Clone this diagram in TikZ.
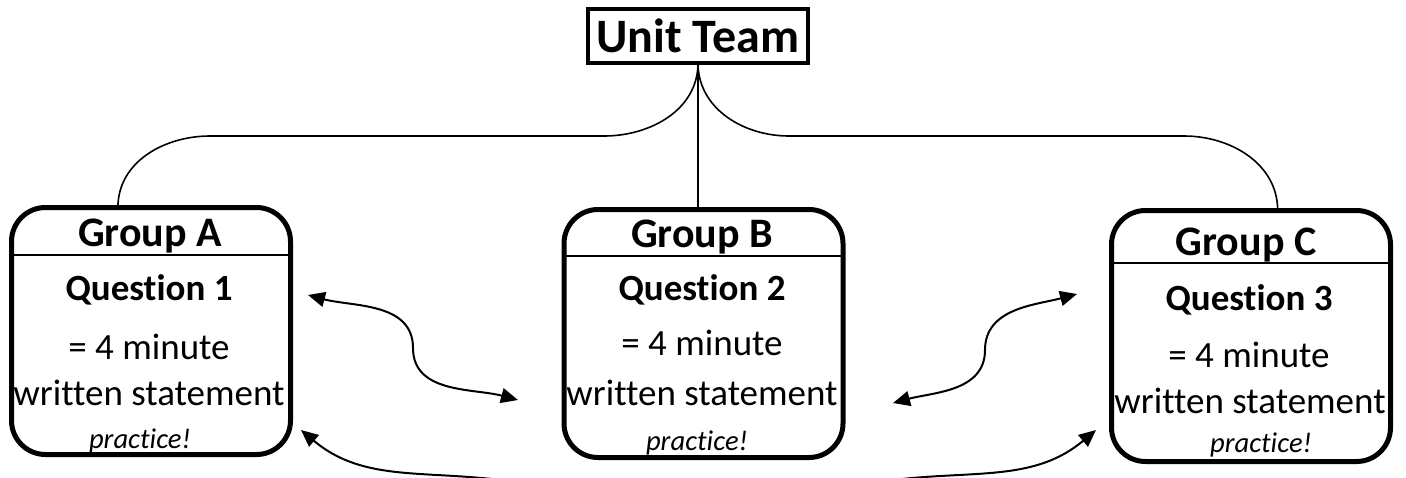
\documentclass[tikz,border=0pt]{standalone}
\usepackage{fontspec}
\setmainfont{Carlito}[RawFeature={-liga;-clig;-calt;-dlig}]
\usetikzlibrary{arrows.meta}

\tikzset{
  grpbox/.style={draw, line width=2.5pt, rounded corners=17pt, inner sep=0pt, outer sep=0pt, minimum width=139.5pt},
  divline/.style={line width=0.75pt},
  hdr/.style={anchor=base, inner sep=0pt, font=\fontsize{21}{25}\selectfont\bfseries},
  qtext/.style={anchor=base, inner sep=0pt, font=\fontsize{18.5}{22}\selectfont\bfseries},
  btext/.style={anchor=base, inner sep=0pt, font=\fontsize{18.5}{22}\selectfont},
  ptext/.style={anchor=base, inner sep=0pt, font=\fontsize{14.3}{17}\selectfont\itshape},
  link/.style={line width=0.8pt},
  dblarrow/.style={line width=1pt, {Triangle[length=8.5pt,width=7.5pt]}-{Triangle[length=8.5pt,width=7.5pt]}},
  onearrow/.style={line width=1pt, -{Triangle[length=8.5pt,width=7.5pt]}},
}

\begin{document}
\begin{tikzpicture}[x=0.5pt,y=0.5pt]
\useasboundingbox (0,0) rectangle (1406,-477);

%Unit Team box
\node[draw, line width=2pt, minimum width=110pt, minimum height=27pt, inner sep=0pt, outer sep=0pt, font=\fontsize{24}{28}\selectfont\bfseries] (team) at (698,-36) {Unit Team};

%Rounded Rect: groups
\node[grpbox, minimum height=123.5pt] (boxA) at (151,-331) {};
\node[grpbox, minimum height=124pt] (boxB) at (703.5,-333.5) {};
\node[grpbox, minimum height=125.5pt] (boxC) at (1251,-336) {};

%Straight Lines: header rules
\draw[divline] (boxA.west |- 0,-255) -- (boxA.east |- 0,-255);
\draw[divline] (boxB.west |- 0,-256) -- (boxB.east |- 0,-256);
\draw[divline] (boxC.west |- 0,-263) -- (boxC.east |- 0,-263);

% Text Node
\node[hdr] (tA) at (150,-246) {Group A};
\node[qtext] (qA) at (149,-300) {Question 1};
\node[btext] (mA) at (149,-359) {= 4 minute};
\node[btext] (wA) at (149,-405) {written statement};
\node[ptext] (pA) at (140,-448) {practice!};
% Text Node
\node[hdr] (tB) at (702,-247) {Group B};
\node[qtext] (qB) at (702,-300) {Question 2};
\node[btext] (mB) at (702,-355) {= 4 minute};
\node[btext] (wB) at (702,-405) {written statement};
\node[ptext] (pB) at (697,-450) {practice!};
% Text Node
\node[hdr] (tC) at (1246,-255) {Group C};
\node[qtext] (qC) at (1249,-310) {Question 3};
\node[btext] (mC) at (1249,-367) {= 4 minute};
\node[btext] (wC) at (1250,-413) {written statement};
\node[ptext] (pC) at (1261,-452) {practice!};

%Connectors from the unit team
\draw[link] (team.south) to[out=-90,in=0] (604,-136) -- (210,-136) to[out=180,in=90] (boxA.105);
\draw[link] (team.south) -- (team.south |- boxB.north);
\draw[link] (team.south) to[out=-90,in=180] (789,-136) -- (1184,-136) to[out=0,in=90] (boxC.78);

%Arrows between groups
\coordinate (ab1) at (308,-295);
\coordinate (abm) at (413,-348);
\coordinate (ab2) at (518,-400);
\draw[dblarrow] (ab1) to[out=-15,in=90] (abm) to[out=-90,in=165] (ab2);
\coordinate (bc1) at (893,-403);
\coordinate (bcm) at (985,-350);
\coordinate (bc2) at (1077,-294);
\draw[dblarrow] (bc1) to[out=15,in=-90] (bcm) to[out=90,in=195] (bc2);
\coordinate (lowL) at (492,-479);
\coordinate (tipA) at (301,-430);
\draw[onearrow] (lowL) to[out=174,in=-40] (tipA);
\coordinate (lowR) at (902,-479);
\coordinate (tipC) at (1096,-430);
\draw[onearrow] (lowR) to[out=6,in=-140] (tipC);

\end{tikzpicture}
\end{document}
